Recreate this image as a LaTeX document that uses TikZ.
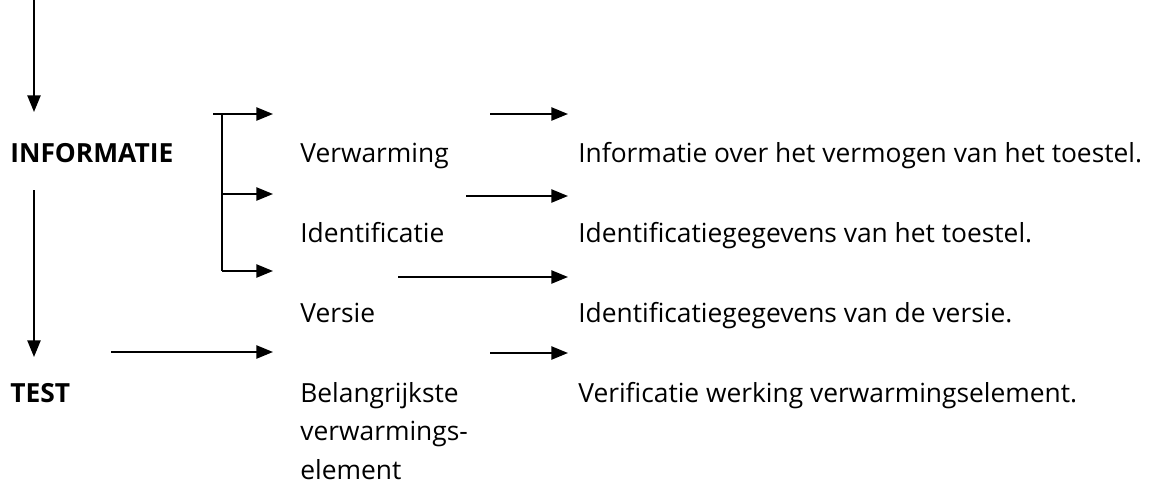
\documentclass[tikz,border=0pt]{standalone}
\usepackage{fontspec}
\setmainfont{Open Sans}
\usetikzlibrary{arrows.meta}

\begin{document}
\begin{tikzpicture}[x=0.02cm, y=-0.02cm,
  txt/.style={anchor=base west, inner sep=0pt, font=\fontsize{15}{22}\selectfont},
  hdr/.style={txt, font=\fontsize{15}{22}\selectfont\bfseries},
  arr/.style={-{Triangle[length=9.5pt,width=7.5pt]}, line width=1.1pt},
  ln/.style={line width=1.1pt}
]
\useasboundingbox (0,0) rectangle (1167,494);

% left column
\node[hdr] (info) at (10,162) {INFORMATIE};
\node[hdr] (test) at (10,402) {TEST};

% middle column
\node[txt] (verw) at (300,162) {Verwarming};
\node[txt] (ident) at (300,242) {Identificatie};
\node[txt] (versie) at (300,322) {Versie};
\node[txt, text width=4cm, align=left] (elem) at (300,402) {Belangrijkste\\verwarmings-\\element};

% right column
\node[txt] (dverw) at (578,162) {Informatie over het vermogen van het toestel.};
\node[txt] (dident) at (578,242) {Identificatiegegevens van het toestel.};
\node[txt] (dversie) at (578,322) {Identificatiegegevens van de versie.};
\node[txt] (delem) at (578,402) {Verificatie werking verwarmingselement.};

% flow on the left
\coordinate (start) at (34,0);
\coordinate (infoin) at (34,112);
\coordinate (infoout) at (34,190);
\coordinate (testin) at (34,357);
\draw[arr] (start) -- (infoin);
\draw[arr] (infoout) -- (testin);

% bracket
\coordinate (brtop) at (213,114);
\coordinate (brbot) at (222,271);
\coordinate (b1) at (273,114);
\coordinate (b2) at (273,194);
\coordinate (b3) at (273,271);
\draw[arr] (brtop) -- (b1);
\draw[ln] (brtop -| brbot) -- (brbot);
\draw[arr] (brbot |- b2) -- (b2);
\draw[arr] (brbot) -- (b3);

\coordinate (tfrom) at (111,352);
\coordinate (tto) at (273,352);
\draw[arr] (tfrom) -- (tto);

% arrows to the descriptions
\coordinate (c1) at (490,114);
\coordinate (c2) at (466,196);
\coordinate (c3) at (398,277);
\coordinate (c4) at (490,353);
\foreach \c in {c1,c2,c3,c4}
  \draw[arr] (\c) -- (568,0 |- \c);
\end{tikzpicture}
\end{document}
